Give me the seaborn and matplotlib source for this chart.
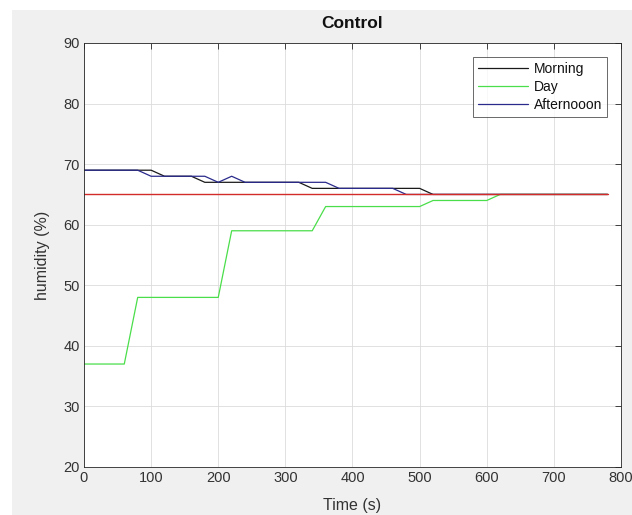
import matplotlib
matplotlib.use("Agg")
import matplotlib.pyplot as plt
from matplotlib.patches import Rectangle
import pandas as pd
import seaborn as sns

# Humidity readings (breakpoints of each session trace)
morning_t = [0, 100, 120, 160, 180, 320, 340, 500, 520, 780]
morning_h = [69, 69, 68, 68, 67, 67, 66, 66, 65, 65]

day_t = [0, 60, 80, 200, 220, 340, 360, 500, 520, 600, 620, 780]
day_h = [37, 37, 48, 48, 59, 59, 63, 63, 64, 64, 65, 65]

afternoon_t = [0, 80, 100, 180, 200, 220, 240, 360, 380, 460, 480, 780]
afternoon_h = [69, 69, 68, 68, 67, 68, 67, 67, 66, 66, 65, 65]

setpoint_t = [0, 780]
setpoint_h = [65, 65]

sessions = ["Morning", "Day", "Afternooon"]
colors = {"Morning": "#1a1a1a", "Day": "#4ade4a", "Afternooon": "#2a2a8c"}
setpoint_color = "#d42a2a"

x_ticks = [0, 100, 200, 300, 400, 500, 600, 700, 800]
y_ticks = [20, 30, 40, 50, 60, 70, 80, 90]

frames = []
for name, t, h in [("Morning", morning_t, morning_h),
                   ("Day", day_t, day_h),
                   ("Afternooon", afternoon_t, afternoon_h)]:
    frames.append(pd.DataFrame({"Time": t, "Humidity": h, "Session": name}))
df = pd.concat(frames, ignore_index=True)
sp = pd.DataFrame({"Time": setpoint_t, "Humidity": setpoint_h})

sns.set_style("white")
plt.rcParams["font.family"] = ["Liberation Sans", "DejaVu Sans"]

text_color = "#333333"

fig = plt.figure(figsize=(6.32, 5.15), dpi=100, facecolor="white")
fig.patches.append(Rectangle((12 / 632, 0), 1, 1 - 10 / 515,
                             transform=fig.transFigure, facecolor="#f0f0f0",
                             edgecolor="none", zorder=-10))
ax = fig.add_axes([84 / 632, 48 / 515, 537 / 632, 424 / 515])
ax.set_facecolor("white")

sns.lineplot(data=df, x="Time", y="Humidity", hue="Session",
             hue_order=sessions, palette=colors, sort=False,
             estimator=None, linewidth=0.9, legend=False, ax=ax)
sns.lineplot(data=sp, x="Time", y="Humidity", color=setpoint_color,
             linewidth=1.0, estimator=None, sort=False, legend=False, ax=ax)

ax.set_xlim(0, 800)
ax.set_ylim(20, 90)
ax.set_xticks(x_ticks)
ax.set_yticks(y_ticks)
ax.tick_params(axis="both", which="major", direction="in", length=4,
               width=0.6, color="#262626", labelsize=10.5,
               labelcolor=text_color, top=True, right=True, pad=3)
ax.grid(True, color="#dcdcdc", linewidth=0.6)
for s in ax.spines.values():
    s.set_color("#262626")
    s.set_linewidth(0.6)

ax.set_title("Control", fontsize=12.5, fontweight="bold", pad=11,
             color="#111111")
ax.set_xlabel("Time (s)", fontsize=11.5, color=text_color, labelpad=9)
ax.set_ylabel("humidity (%)", fontsize=11.5, color=text_color, labelpad=10)

lines = ax.get_lines()[:3]
leg = ax.legend(lines, sessions, loc="upper right",
                bbox_to_anchor=(0.974, 0.967), borderaxespad=0,
                fontsize=10, frameon=True, fancybox=False,
                handlelength=3.6, handletextpad=0.4, labelspacing=0.3,
                borderpad=0.35)
leg.get_frame().set_edgecolor("#262626")
leg.get_frame().set_linewidth(0.6)
for txt in leg.get_texts():
    txt.set_color("#111111")

fig.savefig("out.png", dpi=100, facecolor=fig.get_facecolor())
